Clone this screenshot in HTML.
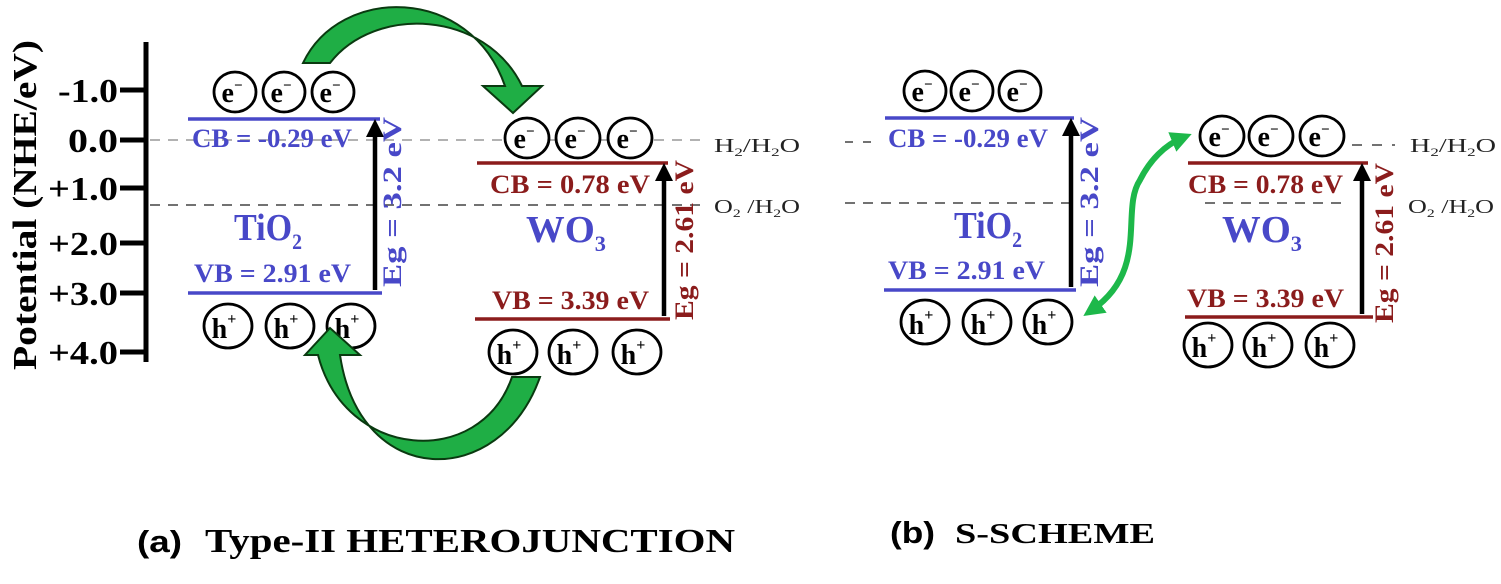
<!DOCTYPE html>
<html><head><meta charset="utf-8"><style>
html,body{margin:0;padding:0;background:#fff;}
svg{display:block;}
text{font-family:"Liberation Serif",serif;font-weight:bold;}
.b{fill:#4848c8;}
.r{fill:#8b1c1c;}
.c{fill:#fff;stroke:#000;stroke-width:2.8;}
.ct{font-size:28px;fill:#000;}
.sm{font-size:20px;font-weight:normal;fill:#222;}
</style></head><body>
<svg width="1501" height="584" viewBox="0 0 1501 584" xmlns="http://www.w3.org/2000/svg">
<defs>
<marker id="ah" viewBox="0 0 10 10" refX="5" refY="5" markerWidth="4" markerHeight="4" orient="auto-start-reverse"><path d="M0,0L10,5L0,10z" fill="#000"/></marker>
<marker id="gh" viewBox="0 0 10 10" refX="5" refY="5" markerWidth="3.5" markerHeight="3.5" orient="auto-start-reverse"><path d="M0,0L10,5L0,10z" fill="#1db84a"/></marker>
</defs>
<!-- axis -->
<line x1="146" y1="42" x2="146" y2="362" stroke="#000" stroke-width="5"/>
<g stroke="#000" stroke-width="5">
<line x1="120" y1="90" x2="146" y2="90"/><line x1="120" y1="140" x2="146" y2="140"/>
<line x1="120" y1="188" x2="146" y2="188"/><line x1="120" y1="243" x2="146" y2="243"/>
<line x1="120" y1="293" x2="146" y2="293"/><line x1="120" y1="352" x2="146" y2="352"/>
</g>
<g font-size="34" text-anchor="end">
<text x="118" y="102" textLength="60" lengthAdjust="spacingAndGlyphs">-1.0</text>
<text x="118" y="152" textLength="50" lengthAdjust="spacingAndGlyphs">0.0</text>
<text x="118" y="200" textLength="70" lengthAdjust="spacingAndGlyphs">+1.0</text>
<text x="118" y="255" textLength="70" lengthAdjust="spacingAndGlyphs">+2.0</text>
<text x="118" y="305" textLength="70" lengthAdjust="spacingAndGlyphs">+3.0</text>
<text x="118" y="364" textLength="70" lengthAdjust="spacingAndGlyphs">+4.0</text>
</g>
<text transform="translate(36,205) rotate(-90)" font-size="34" text-anchor="middle" textLength="330" lengthAdjust="spacingAndGlyphs">Potential (NHE/eV)</text>

<!-- left dashed -->
<line x1="150" y1="140" x2="700" y2="140" stroke="#999" stroke-width="1.5" stroke-dasharray="10,8"/>
<line x1="150" y1="205" x2="700" y2="205" stroke="#444" stroke-width="1.5" stroke-dasharray="10,8"/>
<text x="714" y="152" class="sm" textLength="86" lengthAdjust="spacingAndGlyphs">H<tspan font-size="12" dy="4">2</tspan><tspan dy="-4">/H</tspan><tspan font-size="12" dy="4">2</tspan><tspan dy="-4">O</tspan></text>
<text x="714" y="213" class="sm" textLength="86" lengthAdjust="spacingAndGlyphs">O<tspan font-size="12" dy="4">2</tspan><tspan dy="-4"> /H</tspan><tspan font-size="12" dy="4">2</tspan><tspan dy="-4">O</tspan></text>

<!-- left TiO2 -->
<line x1="188" y1="119" x2="380" y2="119" stroke="#4848c8" stroke-width="3.5"/>
<line x1="188" y1="293" x2="382" y2="293" stroke="#4848c8" stroke-width="3.5"/>
<text x="192" y="147" font-size="26" class="b" textLength="160" lengthAdjust="spacingAndGlyphs">CB = -0.29 eV</text>
<text x="194" y="282" font-size="26" class="b" textLength="157" lengthAdjust="spacingAndGlyphs">VB = 2.91 eV</text>
<text x="268" y="240" font-size="38" class="b" text-anchor="middle" textLength="68" lengthAdjust="spacingAndGlyphs">TiO<tspan font-size="22" dy="9">2</tspan></text>
<line x1="375" y1="290" x2="375" y2="128" stroke="#000" stroke-width="4.5" marker-end="url(#ah)"/>
<text transform="translate(401,202) rotate(-90)" font-size="26" class="b" text-anchor="middle" textLength="170" lengthAdjust="spacingAndGlyphs">Eg = 3.2 eV</text>
<g><ellipse class="c" cx="235" cy="92" rx="21" ry="20"/><ellipse class="c" cx="284" cy="92" rx="21" ry="20"/><ellipse class="c" cx="333" cy="92" rx="21" ry="20"/></g>
<g class="ct" text-anchor="middle"><text x="232" y="102">e<tspan font-size="15" dy="-12">−</tspan></text><text x="281" y="102">e<tspan font-size="15" dy="-12">−</tspan></text><text x="330" y="102">e<tspan font-size="15" dy="-12">−</tspan></text></g>
<g><ellipse class="c" cx="228" cy="326" rx="24" ry="22"/><ellipse class="c" cx="290" cy="326" rx="24" ry="22"/><ellipse class="c" cx="351" cy="326" rx="24" ry="22"/></g>
<g class="ct" text-anchor="middle"><text x="224" y="338">h<tspan font-size="16" dy="-14">+</tspan></text><text x="286" y="338">h<tspan font-size="16" dy="-14">+</tspan></text><text x="347" y="338">h<tspan font-size="16" dy="-14">+</tspan></text></g>

<!-- left WO3 -->
<line x1="477" y1="163" x2="668" y2="163" stroke="#8b1c1c" stroke-width="3.5"/>
<line x1="475" y1="319" x2="670" y2="319" stroke="#8b1c1c" stroke-width="3.5"/>
<text x="490" y="193" font-size="26" class="r" textLength="160" lengthAdjust="spacingAndGlyphs">CB = 0.78 eV</text>
<text x="492" y="309" font-size="26" class="r" textLength="157" lengthAdjust="spacingAndGlyphs">VB = 3.39 eV</text>
<text x="566" y="242" font-size="38" class="b" text-anchor="middle" textLength="80" lengthAdjust="spacingAndGlyphs">WO<tspan font-size="22" dy="9">3</tspan></text>
<line x1="664" y1="316" x2="664" y2="172" stroke="#000" stroke-width="4.5" marker-end="url(#ah)"/>
<text transform="translate(693,240) rotate(-90)" font-size="26" class="r" text-anchor="middle" textLength="160" lengthAdjust="spacingAndGlyphs">Eg = 2.61 eV</text>
<g><ellipse class="c" cx="527" cy="138" rx="22" ry="20"/><ellipse class="c" cx="578" cy="138" rx="22" ry="20"/><ellipse class="c" cx="630" cy="138" rx="22" ry="20"/></g>
<g class="ct" text-anchor="middle"><text x="524" y="148">e<tspan font-size="15" dy="-12">−</tspan></text><text x="575" y="148">e<tspan font-size="15" dy="-12">−</tspan></text><text x="627" y="148">e<tspan font-size="15" dy="-12">−</tspan></text></g>
<g><ellipse class="c" cx="513" cy="352" rx="24" ry="22"/><ellipse class="c" cx="573" cy="352" rx="24" ry="22"/><ellipse class="c" cx="637" cy="352" rx="24" ry="22"/></g>
<g class="ct" text-anchor="middle"><text x="509" y="364">h<tspan font-size="16" dy="-14">+</tspan></text><text x="569" y="364">h<tspan font-size="16" dy="-14">+</tspan></text><text x="633" y="364">h<tspan font-size="16" dy="-14">+</tspan></text></g>

<!-- green curved arrows -->
<path d="M303,63 C340,-15 470,-15 505,86 L483,86 L513,113 L542,86 L522,86 C485,10 375,5 330,63 Z" fill="#1fae45" stroke="#0a3a10" stroke-width="2"/>
<path d="M540,377 C500,490 360,490 340,355 L360,355 L330,328 L305,355 L318,355 C345,460 480,470 512,377 Z" fill="#1fae45" stroke="#0a3a10" stroke-width="2"/>

<!-- right panel -->
<line x1="845" y1="142" x2="875" y2="142" stroke="#444" stroke-width="1.5" stroke-dasharray="8,10"/>
<line x1="845" y1="203" x2="1070" y2="203" stroke="#444" stroke-width="1.5" stroke-dasharray="10,8"/>
<line x1="1205" y1="203" x2="1345" y2="203" stroke="#444" stroke-width="1.5" stroke-dasharray="10,8"/>
<line x1="1352" y1="145" x2="1395" y2="145" stroke="#444" stroke-width="1.5" stroke-dasharray="10,10"/>
<text x="1410" y="152" class="sm" textLength="86" lengthAdjust="spacingAndGlyphs">H<tspan font-size="12" dy="4">2</tspan><tspan dy="-4">/H</tspan><tspan font-size="12" dy="4">2</tspan><tspan dy="-4">O</tspan></text>
<text x="1408" y="213" class="sm" textLength="86" lengthAdjust="spacingAndGlyphs">O<tspan font-size="12" dy="4">2</tspan><tspan dy="-4"> /H</tspan><tspan font-size="12" dy="4">2</tspan><tspan dy="-4">O</tspan></text>

<line x1="885" y1="118" x2="1074" y2="118" stroke="#4848c8" stroke-width="3.5"/>
<line x1="884" y1="290" x2="1076" y2="290" stroke="#4848c8" stroke-width="3.5"/>
<text x="888" y="147" font-size="26" class="b" textLength="160" lengthAdjust="spacingAndGlyphs">CB = -0.29 eV</text>
<text x="888" y="279" font-size="26" class="b" textLength="157" lengthAdjust="spacingAndGlyphs">VB = 2.91 eV</text>
<text x="988" y="238" font-size="38" class="b" text-anchor="middle" textLength="68" lengthAdjust="spacingAndGlyphs">TiO<tspan font-size="22" dy="9">2</tspan></text>
<line x1="1071" y1="287" x2="1071" y2="127" stroke="#000" stroke-width="4.5" marker-end="url(#ah)"/>
<text transform="translate(1098,202) rotate(-90)" font-size="26" class="b" text-anchor="middle" textLength="170" lengthAdjust="spacingAndGlyphs">Eg = 3.2 eV</text>
<g><ellipse class="c" cx="925" cy="91" rx="21" ry="20"/><ellipse class="c" cx="972" cy="91" rx="21" ry="20"/><ellipse class="c" cx="1020" cy="91" rx="21" ry="20"/></g>
<g class="ct" text-anchor="middle"><text x="922" y="101">e<tspan font-size="15" dy="-12">−</tspan></text><text x="969" y="101">e<tspan font-size="15" dy="-12">−</tspan></text><text x="1017" y="101">e<tspan font-size="15" dy="-12">−</tspan></text></g>
<g><ellipse class="c" cx="925" cy="322" rx="24" ry="22"/><ellipse class="c" cx="987" cy="322" rx="24" ry="22"/><ellipse class="c" cx="1048" cy="322" rx="24" ry="22"/></g>
<g class="ct" text-anchor="middle"><text x="921" y="334">h<tspan font-size="16" dy="-14">+</tspan></text><text x="983" y="334">h<tspan font-size="16" dy="-14">+</tspan></text><text x="1044" y="334">h<tspan font-size="16" dy="-14">+</tspan></text></g>

<line x1="1188" y1="163" x2="1368" y2="163" stroke="#8b1c1c" stroke-width="3.5"/>
<line x1="1185" y1="317" x2="1373" y2="317" stroke="#8b1c1c" stroke-width="3.5"/>
<text x="1188" y="193" font-size="26" class="r" textLength="155" lengthAdjust="spacingAndGlyphs">CB = 0.78 eV</text>
<text x="1187" y="307" font-size="26" class="r" textLength="157" lengthAdjust="spacingAndGlyphs">VB = 3.39 eV</text>
<text x="1262" y="242" font-size="38" class="b" text-anchor="middle" textLength="80" lengthAdjust="spacingAndGlyphs">WO<tspan font-size="22" dy="9">3</tspan></text>
<line x1="1362" y1="314" x2="1362" y2="172" stroke="#000" stroke-width="4.5" marker-end="url(#ah)"/>
<text transform="translate(1393,243) rotate(-90)" font-size="26" class="r" text-anchor="middle" textLength="160" lengthAdjust="spacingAndGlyphs">Eg = 2.61 eV</text>
<g><ellipse class="c" cx="1222" cy="136" rx="22" ry="20"/><ellipse class="c" cx="1271" cy="136" rx="22" ry="20"/><ellipse class="c" cx="1322" cy="136" rx="22" ry="20"/></g>
<g class="ct" text-anchor="middle"><text x="1219" y="146">e<tspan font-size="15" dy="-12">−</tspan></text><text x="1268" y="146">e<tspan font-size="15" dy="-12">−</tspan></text><text x="1319" y="146">e<tspan font-size="15" dy="-12">−</tspan></text></g>
<g><ellipse class="c" cx="1208" cy="345" rx="24" ry="22"/><ellipse class="c" cx="1268" cy="345" rx="24" ry="22"/><ellipse class="c" cx="1330" cy="345" rx="24" ry="22"/></g>
<g class="ct" text-anchor="middle"><text x="1204" y="357">h<tspan font-size="16" dy="-14">+</tspan></text><text x="1264" y="357">h<tspan font-size="16" dy="-14">+</tspan></text><text x="1326" y="357">h<tspan font-size="16" dy="-14">+</tspan></text></g>

<path d="M1092,310 C1150,270 1120,210 1140,180 C1150,160 1165,145 1182,138" fill="none" stroke="#1db84a" stroke-width="6" marker-start="url(#gh)" marker-end="url(#gh)"/>

<!-- captions -->
<text x="137" y="552" font-size="31" style="font-family:'Liberation Sans',sans-serif" textLength="45" lengthAdjust="spacingAndGlyphs">(a)</text>
<text x="205" y="552" font-size="34" textLength="530" lengthAdjust="spacingAndGlyphs">Type-II HETEROJUNCTION</text>
<text x="890" y="543" font-size="31" style="font-family:'Liberation Sans',sans-serif" textLength="45" lengthAdjust="spacingAndGlyphs">(b)</text>
<text x="955" y="543" font-size="28" textLength="200" lengthAdjust="spacingAndGlyphs">S-SCHEME</text>
</svg>
</body></html>
